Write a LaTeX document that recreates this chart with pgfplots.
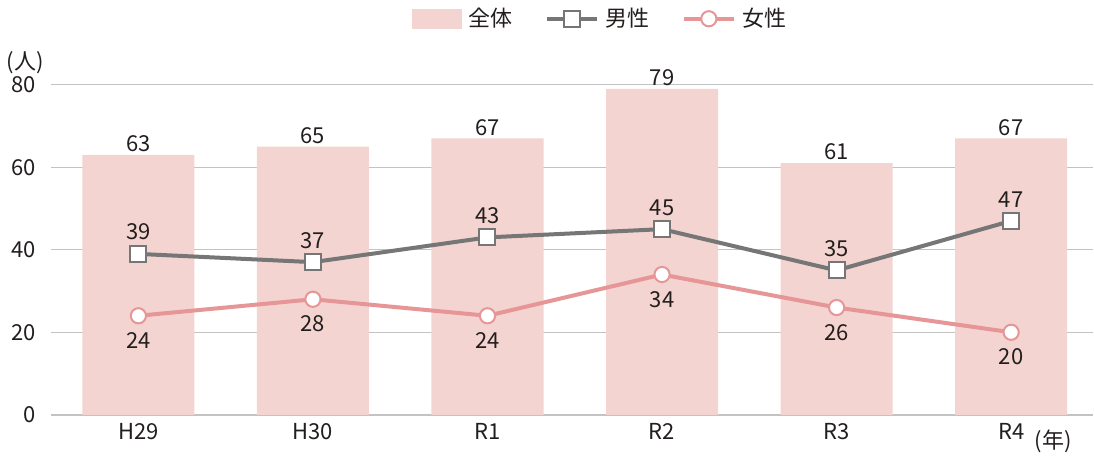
\documentclass[border=0pt]{standalone}
\usepackage{fontspec}
\setmainfont{Noto Sans CJK JP}
\usepackage{pgfplots}
\pgfplotsset{compat=1.18}
\definecolor{barc}{RGB}{243,212,208}
\definecolor{malec}{RGB}{118,118,118}
\definecolor{femc}{RGB}{230,150,150}
\definecolor{gridc}{RGB}{195,195,195}
\definecolor{txtc}{RGB}{35,30,30}
\begin{document}
\begin{tikzpicture}[font=\fontsize{11}{13}\selectfont, text=txtc]
\begin{axis}[
  scale only axis, width=521pt, height=165pt,
  clip=false,
  xmin=-0.5, xmax=5.47, ymin=0, ymax=80,
  xtick={0,1,2,3,4,5}, xticklabels={H29,H30,R1,R2,R3,R4},
  ytick={0,20,40,60,80},
  ymajorgrids, grid style={draw=gridc, line width=0.6pt},
  axis lines*=left,
  y axis line style={draw=none},
  x axis line style={draw=gridc, line width=0.8pt},
  tick style={draw=none},
  /pgf/number format/assume math mode=true,
  yticklabel style={xshift=-4pt},
  xticklabel style={yshift=-1pt},
  legend style={at={(0.528,1.2)}, anchor=center, draw=none, fill=none,
    legend columns=3, font=\fontsize{11}{13}\selectfont,
    /tikz/every even column/.append style={column sep=14pt},
    /tikz/every odd column/.append style={column sep=1.5pt}},
]
\addplot[ybar, bar width=56pt, fill=barc, draw=none,
  nodes near coords, every node near coord/.append style={text=txtc, yshift=-2pt},
  legend image code/.code={\fill[barc] (0pt,-5pt) rectangle (25pt,5pt);}]
  coordinates {(0,63) (1,65) (2,67) (3,79) (4,61) (5,67)};
\addlegendentry{全体}
\addplot[malec, line width=2pt, mark=square*, mark size=4pt,
  mark options={fill=white, draw=malec, line width=1pt},
  nodes near coords, every node near coord/.append style={text=txtc, anchor=south, yshift=3pt},
  legend image code/.code={\draw[mark repeat=2,mark phase=2] plot coordinates {(0pt,0pt) (12.5pt,0pt) (25pt,0pt)};}]
  coordinates {(0,39) (1,37) (2,43) (3,45) (4,35) (5,47)};
\addlegendentry{男性}
\addplot[femc, line width=2pt, mark=*, mark size=3.8pt,
  mark options={fill=white, draw=femc, line width=1pt},
  nodes near coords, every node near coord/.append style={text=txtc, anchor=north, yshift=-4.5pt},
  legend image code/.code={\draw[mark repeat=2,mark phase=2] plot coordinates {(0pt,0pt) (12.5pt,0pt) (25pt,0pt)};}]
  coordinates {(0,24) (1,28) (2,24) (3,34) (4,26) (5,20)};
\addlegendentry{女性}
\node[text=txtc] at (rel axis cs:0,1) [xshift=-13pt, yshift=11pt] {(人)};
\node[text=txtc, anchor=north] at (axis cs:5.24,0) [yshift=-4pt] {(年)};
\end{axis}
\end{tikzpicture}
\end{document}
